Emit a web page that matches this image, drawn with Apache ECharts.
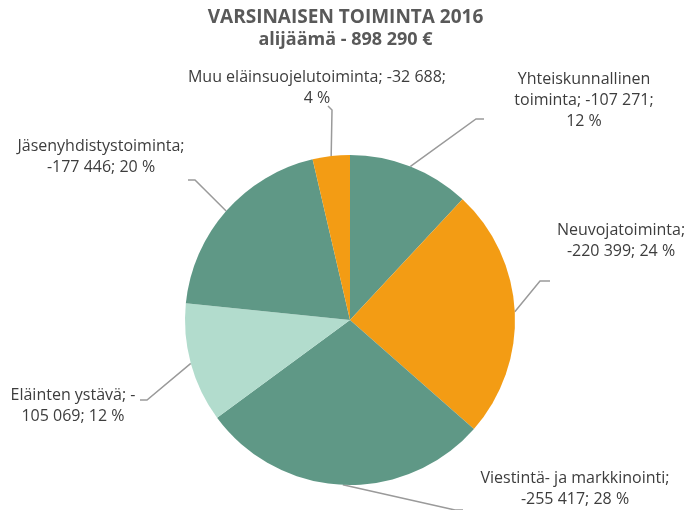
<!DOCTYPE html>
<html>
<head>
<meta charset="utf-8">
<script src="https://cdn.jsdelivr.net/npm/echarts@6/dist/echarts.min.js"></script>
<style>
  html, body { margin: 0; padding: 0; background: #fff; }
  #chart { width: 691px; height: 510px; }
</style>
</head>
<body>
<div id="chart"></div>
<script>
// tiedot (alijäämä 2016)
const categories = ['Yhteiskunnallinen toiminta', 'Neuvojatoiminta', 'Viestintä- ja markkinointi', 'Eläinten ystävä', 'Jäsenyhdistystoiminta', 'Muu eläinsuojelutoiminta']
const values = [-107271, -220399, -255417, -105069, -177446, -32688]
const percents = [12, 24, 28, 12, 20, 4]
const colors = ['#5f9886', '#f39c14', '#5f9886', '#b2dccd', '#5f9886', '#f39c14']

// luku muotoon "-107 271"
function fmt (v) {
  const s = String(Math.abs(v)).replace(/\B(?=(\d{3})+(?!\d))/g, ' ')
  return (v < 0 ? '-' : '') + s
}

const labelTexts = [
  'Yhteiskunnallinen\ntoiminta; ' + fmt(values[0]) + ';\n' + percents[0] + ' %',
  'Neuvojatoiminta;\n' + fmt(values[1]) + '; ' + percents[1] + ' %',
  'Viestintä- ja markkinointi;\n' + fmt(values[2]) + '; ' + percents[2] + ' %',
  'Eläinten ystävä; -\n' + fmt(-values[3]) + '; ' + percents[3] + ' %',
  'Jäsenyhdistystoiminta;\n' + fmt(values[4]) + '; ' + percents[4] + ' %',
  'Muu eläinsuojelutoiminta; ' + fmt(values[5]) + ';\n' + percents[5] + ' %'
]

// selitteiden paikat (kuten Excelissä siirretty käsin)
const labelAnchors = [
  { x: 584, y: 100, elbow: [476, 119], end: [484, 119] },
  { x: 621, y: 241, elbow: [540, 281], end: [550, 281] },
  { x: 575, y: 489, elbow: [455, 510], end: [463, 510] },
  { x: 73, y: 406, elbow: [147, 400], end: [140, 400] },
  { x: 101, y: 157, elbow: [195, 180], end: [188, 180] },
  { x: 317, y: 88, elbow: [332, 110], end: [328, 106] }
]

const chart = echarts.init(document.getElementById('chart'))
const option = {
  animation: false,
  textStyle: { fontFamily: 'Open Sans' },
  title: {
    text: 'VARSINAISEN TOIMINTA 2016',
    subtext: 'alijäämä - 898 290 €',
    left: 'center',
    top: 3,
    itemGap: 4,
    textStyle: { fontFamily: 'Open Sans', fontSize: 19, fontWeight: 'bold', color: '#595959' },
    subtextStyle: { fontFamily: 'Open Sans', fontSize: 18, fontWeight: 'bold', color: '#595959' }
  },
  series: [{
    type: 'pie',
    center: [350, 320],
    radius: 165,
    startAngle: 90,
    clockwise: true,
    silent: true,
    data: categories.map(function (name, i) {
      return { name: name, value: Math.abs(values[i]), itemStyle: { color: colors[i] } }
    }),
    label: {
      show: true,
      position: 'outside',
      formatter: function (p) { return labelTexts[p.dataIndex] },
      fontFamily: 'Open Sans',
      fontSize: 16,
      lineHeight: 21,
      color: '#3d3d3d',
      align: 'center',
      overflow: 'none'
    },
    labelLine: {
      show: true,
      smooth: false,
      lineStyle: { color: '#9a9a9a', width: 1.5 }
    },
    labelLayout: function (params) {
      const a = labelAnchors[params.dataIndex]
      const start = params.labelLinePoints ? params.labelLinePoints[0] : a.elbow
      return {
        x: a.x,
        y: a.y,
        align: 'center',
        verticalAlign: 'middle',
        width: 260,
        labelLinePoints: [start, a.elbow, a.end]
      }
    }
  }]
}
chart.setOption(option)
</script>
</body>
</html>
